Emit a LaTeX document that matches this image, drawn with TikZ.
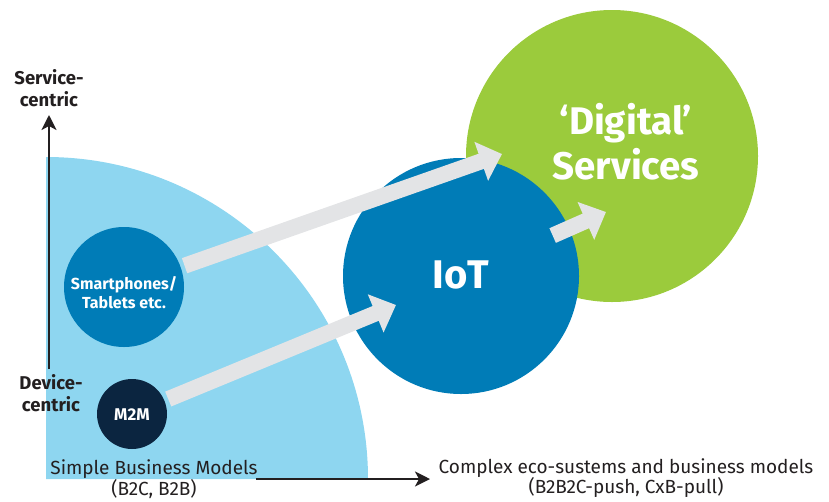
\documentclass[tikz,border=0pt]{standalone}
\usepackage{fontspec}
\setmainfont{Fira Sans}
\usetikzlibrary{arrows.meta}

\definecolor{skyblue}{RGB}{142,214,240}
\definecolor{iotblue}{RGB}{0,124,183}
\definecolor{navy}{RGB}{11,37,64}
\definecolor{leafgreen}{RGB}{155,203,60}
\definecolor{arrowgray}{RGB}{227,228,230}
\definecolor{inkgray}{RGB}{35,31,32}

\begin{document}
\begin{tikzpicture}[x=1pt,y=-1pt,
		axis/.style={line width=2.2pt, inkgray, -{Stealth[length=15pt,width=15pt,inset=4pt]}},
		flow/.style={line width=16pt, arrowgray, -{Triangle[length=22pt,width=40pt]}},
		bubble/.style={circle, inner sep=0pt},
		bubbletext/.style={align=center, text=white, inner sep=0pt},
		axislabel/.style={align=center, text=inkgray, inner sep=0pt, font=\fontsize{18.5}{22}\selectfont\bfseries},
		modellabel/.style={align=center, text=inkgray, inner sep=0pt, font=\fontsize{19}{20.5}\selectfont}]
		
		\useasboundingbox (0,0) rectangle (829,501);
		
		% quarter disc of the simple models
		\fill[skyblue] (46,479) -- (46,157) arc[start angle=-90, end angle=0, radius=322] -- cycle;
		
		% axes
		\draw[axis] (49,369) -- (49,115);
		\draw[axis] (256,479) -- (430,479);
		
		\node[axislabel] (service) at (49,88) {Service-\\centric};
		\node[axislabel] (device) at (51,393) {Device-\\centric};
		\node[modellabel] (simple) at (154,479) {Simple Business Models\\(B2C, B2B)};
		\node[modellabel] (complex) at (626,478) {Complex eco-sustems and business models\\(B2B2C-push, CxB-pull)};
		
		% bubbles
		\node[bubble, fill=leafgreen, minimum size=292pt] (digital) at (612,156) {};
		\node[bubble, fill=iotblue, minimum size=236pt] (iot) at (461,276) {};
		\node[bubble, fill=iotblue, minimum size=120pt] (phones) at (124,287) {};
		\node[bubble, fill=navy, minimum size=70pt] (m2m) at (132,414) {};
		
		\node[bubbletext, font=\fontsize{40}{45}\selectfont\bfseries] (iot text) at (461,275) {IoT};
		\node[bubbletext, font=\fontsize{16}{19}\selectfont\bfseries] (phones text) at (124,293) {Smartphones/\\Tablets etc.};
		\node[bubbletext, font=\fontsize{17}{19}\selectfont\bfseries] (m2m text) at (132,415) {M2M};
		\node[bubbletext, font=\fontsize{38.5}{45}\selectfont\bfseries] (digital text) at (626,142) {‘Digital’\\Services};
		
		% arrows
		\coordinate (digital in) at (502,154);
		\coordinate (iot in) at (396,305);
		\coordinate (digital in2) at (606,212);
		
		\draw[flow, shorten <=4pt] (phones) -- (digital in);
		\draw[flow, shorten <=4pt] (m2m) -- (iot in);
		\draw[flow, shorten <=-18pt] (iot) -- (digital in2);
		
	\end{tikzpicture}
\end{document}
